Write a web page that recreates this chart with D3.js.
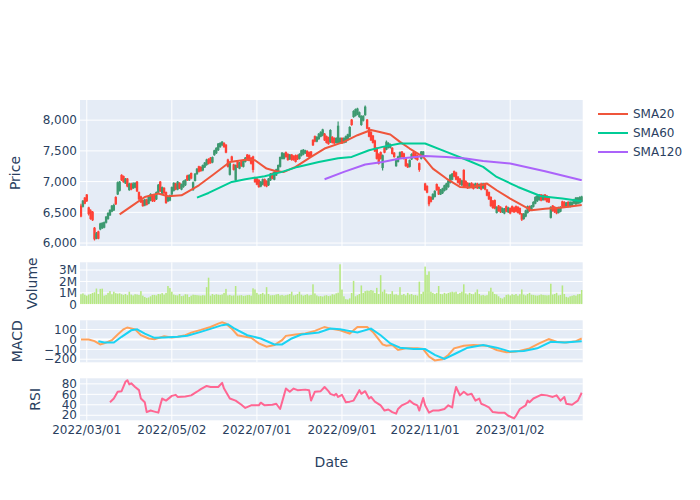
<!DOCTYPE html>
<html><head><meta charset="utf-8">
<script src="https://cdn.jsdelivr.net/npm/d3@7"></script>
<style>body{margin:0;background:#fff} text{font-family:"DejaVu Sans",Verdana,sans-serif}</style>
</head><body><svg id="c" width="700" height="500"></svg>
<script>
const startDate = "2022-02-24", endDate = "2023-02-22";
const tickLabels = ["2022/03/01","2022/05/02","2022/07/01","2022/09/01","2022/11/01","2023/01/02"];
const priceTicks = [6000,6500,7000,7500,8000];
const volTicks = [0,1000,2000,3000];
const macdTicks = [-200,-100,0,100];
const rsiTicks = [20,40,60,80];

const open = [6600,6600,6730,6780,6570,6520,6500,6240,6080,6180,
 6230,6250,6260,6340,6400,6460,6520,6540,6740,6800,
 6860,7100,7080,6980,7040,6870,6960,6900,6910,6990,
 6820,6750,6690,6620,6700,6650,6700,6780,6760,6720,
 6830,6990,6800,6890,6820,6690,6700,6800,6860,6960,
 6880,6970,6880,6920,6950,7090,7030,7130,6870,7020,
 7130,7240,7230,7190,7240,7280,7360,7380,7320,7440,
 7470,7520,7570,7600,7620,7590,7350,7120,7400,7270,
 7030,7320,7220,7330,7250,7330,7430,7420,7380,7400,
 7060,7040,7020,6930,6960,7030,7000,6950,7030,7130,
 7040,7110,7180,7250,7380,7380,7470,7440,7370,7430,
 7410,7420,7420,7380,7430,7450,7470,7490,7470,7480,
 7670,7730,7660,7700,7740,7760,7770,7730,7710,7650,
 7720,7700,7640,7640,7630,7700,7640,7650,7690,7740,
 8000,8060,8080,8100,8060,7930,8000,8090,8000,7870,
 7800,7740,7660,7540,7440,7470,7230,7560,7530,7560,
 7560,7540,7460,7260,7330,7400,7480,7450,7380,7280,
 7250,7370,7470,7450,7420,7290,7380,7410,6960,6920,
 6750,6740,6720,6760,6950,6900,6800,6820,6860,6880,
 6920,6990,7040,7160,7140,7070,7040,6950,7180,7000,
 6970,6910,6970,6950,6910,6960,6900,6960,6900,6960,
 6860,6820,6740,6680,6690,6500,6600,6580,6510,6490,
 6590,6510,6560,6590,6570,6590,6580,6560,6470,6400,
 6440,6500,6590,6540,6600,6650,6690,6710,6780,6710,
 6780,6760,6740,6420,6600,6580,6560,6500,6520,6670,
 6660,6590,6660,6600,6610,6650,6640,6650,6660,6680];
const close = [6440,6680,6650,6690,6480,6400,6380,6070,6150,6080,
 6310,6320,6330,6420,6480,6530,6600,6610,6640,6980,
 6990,7030,7000,7040,6930,6960,6880,6960,6970,6850,
 6720,6670,6610,6700,6630,6750,6790,6690,6690,6820,
 6940,6850,6900,6820,6660,6740,6770,6900,6970,6880,
 6990,6900,6950,7000,7020,7030,7100,7060,6980,7120,
 7200,7170,7180,7260,7300,7350,7300,7310,7390,7500,
 7540,7610,7620,7640,7570,7480,7250,7300,7350,7200,
 7260,7240,7300,7260,7330,7380,7360,7350,7300,7200,
 7000,6960,6920,6990,7030,6940,6930,7040,7120,7060,
 7150,7190,7260,7390,7460,7450,7410,7360,7430,7360,
 7360,7330,7370,7440,7500,7510,7500,7420,7410,7420,
 7600,7660,7720,7770,7800,7840,7680,7640,7620,7830,
 7640,7630,7700,7900,7700,7630,7700,7730,7760,7880,
 7930,8140,8170,8180,8120,8060,8060,8210,7870,7740,
 7680,7640,7500,7380,7300,7380,7420,7480,7640,7620,
 7600,7460,7410,7350,7400,7470,7410,7380,7260,7240,
 7340,7440,7400,7380,7360,7200,7480,7480,6870,6830,
 6640,6680,6790,6840,6870,6800,6860,6880,6930,6960,
 7010,7100,7120,7090,7040,6990,6960,7010,6920,6930,
 6900,6960,6910,6890,6960,6900,6950,6880,6960,6880,
 6780,6720,6610,6580,6570,6580,6530,6510,6560,6550,
 6520,6570,6490,6520,6510,6520,6500,6480,6390,6470,
 6520,6590,6530,6600,6660,6740,6760,6780,6700,6770,
 6710,6680,6670,6580,6530,6510,6490,6570,6580,6600,
 6590,6650,6600,6660,6660,6700,6730,6730,6740,6750];
const high = [6640,6700,6750,6800,6590,6550,6520,6260,6180,6200,
 6330,6340,6350,6440,6500,6550,6620,6640,6760,7000,
 7010,7120,7100,7060,7060,6980,6980,6990,6990,7010,
 6840,6770,6710,6720,6720,6770,6810,6800,6780,6840,
 6960,7010,6920,6910,6840,6760,6790,6920,6990,6980,
 7010,6990,6970,7020,7040,7110,7120,7150,7000,7140,
 7220,7260,7250,7280,7320,7370,7380,7400,7410,7520,
 7560,7630,7640,7660,7640,7610,7370,7320,7420,7290,
 7280,7340,7320,7350,7350,7400,7450,7440,7400,7420,
 7080,7060,7040,7010,7050,7050,7020,7060,7140,7150,
 7170,7210,7280,7410,7480,7470,7490,7460,7450,7450,
 7430,7440,7440,7460,7520,7530,7520,7510,7490,7500,
 7690,7750,7740,7790,7820,7860,7790,7750,7730,7850,
 7740,7720,7720,7980,7720,7720,7720,7750,7780,7900,
 8020,8160,8190,8200,8140,8080,8080,8240,8020,7890,
 7820,7760,7680,7560,7460,7490,7440,7580,7670,7640,
 7620,7560,7480,7370,7420,7490,7500,7470,7400,7300,
 7360,7460,7490,7470,7440,7310,7500,7500,6980,6940,
 6770,6760,6810,6860,6970,6920,6880,6900,6950,6980,
 7030,7120,7140,7180,7160,7090,7060,7030,7200,7020,
 6990,6980,6990,6970,6980,6980,6970,6980,6980,6980,
 6880,6840,6760,6700,6710,6600,6620,6600,6580,6570,
 6610,6590,6580,6610,6590,6610,6600,6580,6490,6490,
 6540,6610,6610,6620,6680,6760,6780,6800,6800,6790,
 6800,6780,6760,6600,6620,6600,6580,6590,6600,6690,
 6680,6670,6680,6680,6680,6720,6750,6750,6760,6770];
const low = [6420,6580,6630,6670,6450,6380,6360,6040,6060,6060,
 6210,6230,6240,6320,6380,6440,6500,6520,6620,6780,
 6840,7010,6980,6960,6910,6850,6860,6880,6890,6830,
 6700,6650,6590,6600,6610,6630,6680,6670,6670,6700,
 6810,6830,6780,6800,6640,6670,6680,6780,6840,6860,
 6860,6880,6860,6900,6930,7010,7010,7040,6850,7000,
 7110,7150,7160,7170,7220,7260,7280,7290,7300,7420,
 7450,7500,7550,7580,7550,7460,7230,7100,7330,7180,
 7010,7220,7200,7240,7230,7310,7340,7330,7280,7150,
 6980,6940,6900,6910,6940,6920,6910,6930,7010,7040,
 7020,7090,7160,7230,7360,7360,7390,7340,7350,7340,
 7340,7310,7350,7360,7410,7430,7450,7400,7390,7400,
 7580,7640,7640,7680,7720,7740,7660,7620,7600,7630,
 7620,7610,7620,7620,7610,7610,7620,7630,7670,7720,
 7910,8040,8060,8080,8040,7910,7980,8070,7850,7720,
 7660,7620,7480,7360,7280,7360,7180,7460,7510,7540,
 7540,7440,7390,7240,7310,7380,7390,7360,7240,7220,
 7230,7350,7380,7360,7340,7160,7360,7390,6850,6810,
 6600,6660,6700,6740,6850,6780,6780,6800,6840,6860,
 6900,6970,7020,7070,7020,6970,6940,6930,6900,6910,
 6880,6890,6890,6870,6890,6880,6880,6860,6880,6860,
 6760,6700,6590,6560,6550,6480,6510,6490,6490,6470,
 6500,6490,6470,6500,6490,6500,6480,6460,6360,6380,
 6420,6480,6510,6520,6580,6630,6670,6690,6680,6690,
 6690,6660,6650,6400,6510,6490,6470,6480,6500,6580,
 6570,6570,6580,6580,6590,6630,6620,6630,6640,6660];
// volume in thousands of shares
const volumeK = [880,950,830,760,850,900,1000,1050,1380,900,
 1350,1370,760,820,1000,1150,880,1100,970,930,
 960,880,820,900,800,1100,850,780,880,860,
 820,1150,760,640,560,600,700,820,820,780,
 900,880,980,850,1000,1600,1420,1100,850,800,
 780,900,720,760,880,860,640,760,840,820,
 800,780,760,800,780,1500,2330,760,900,820,
 880,840,820,860,1000,1350,780,820,760,780,
 1600,760,780,800,740,760,800,820,760,1400,
 1300,1000,850,900,1000,860,1500,900,780,800,
 800,860,900,780,820,760,800,840,900,1100,
 780,820,900,1100,840,760,820,880,780,820,
 1750,950,780,700,720,680,760,800,720,760,
 880,850,960,1020,3500,1290,700,450,420,520,
 990,2050,700,800,900,1650,1000,1150,1200,1180,
 1250,1200,1000,1440,900,2550,1100,1290,950,880,
 900,1150,850,880,800,1500,820,900,780,1000,
 850,900,800,820,760,1980,900,1100,3300,2580,
 2880,1100,1000,900,1000,1600,900,880,1000,920,
 1000,1050,1100,1050,1100,900,1000,1100,1750,950,
 850,1000,900,880,1050,1300,900,780,820,760,
 800,1140,1450,1100,900,860,700,560,500,620,
 820,860,780,880,820,900,760,880,1300,850,
 780,900,1000,840,820,780,760,800,860,820,
 800,780,800,1800,850,900,1000,780,820,1650,
 900,650,600,700,750,800,760,880,900,1250];

// [trading-day index, value]
const sma20 = [[20,6467],[26,6598],[33,6750],[40,6805],[45,6761],[52,6777],[61,6940],[68,7103],[77,7320],[86,7359],[90,7348],[96,7212],[101,7169],[105,7158],[111,7239],[119,7402],[126,7538],[136,7647],[143,7755],[150,7840],[154,7810],[160,7767],[165,7647],[170,7538],[177,7402],[182,7212],[189,7050],[196,6913],[201,6903],[207,6940],[210,6968],[215,6859],[222,6724],[233,6533],[240,6560],[249,6577],[259,6620]];
const sma60 = [[60,6740],[66,6815],[78,6995],[85,7038],[95,7087],[104,7158],[112,7239],[123,7320],[133,7380],[140,7402],[149,7511],[156,7565],[165,7620],[178,7620],[189,7484],[199,7359],[208,7239],[215,7076],[226,6913],[238,6761],[249,6724],[259,6680]];
const sma120 = [[126,7038],[136,7158],[147,7278],[156,7320],[165,7375],[178,7418],[189,7402],[199,7375],[208,7337],[222,7294],[240,7169],[259,7022]];
const macd = [[0,0],[4,0],[7,-17],[10,-50],[12,-40],[16,-7],[19,50],[22,103],[24,122],[28,103],[31,43],[35,10],[38,3],[43,33],[47,20],[50,27],[54,43],[57,70],[62,97],[67,127],[71,160],[73,175],[75,160],[78,110],[81,43],[85,27],[88,17],[92,-40],[96,-73],[100,-57],[104,-7],[106,37],[111,50],[116,60],[121,87],[126,127],[129,110],[134,93],[139,60],[143,127],[148,127],[151,77],[156,-50],[158,-63],[161,-57],[164,-107],[168,-90],[174,-90],[177,-97],[180,-173],[183,-212],[187,-200],[190,-157],[193,-90],[198,-63],[203,-57],[210,-63],[215,-107],[220,-130],[225,-123],[232,-90],[237,-40],[242,3],[246,-23],[251,-30],[256,-17],[259,10]];
const signal = [[9,-17],[12,-30],[17,-30],[21,27],[26,93],[29,103],[33,60],[38,17],[43,20],[50,27],[55,37],[62,77],[69,120],[73,145],[76,155],[79,115],[86,43],[93,10],[100,-50],[104,-50],[109,10],[114,50],[123,70],[129,110],[134,103],[143,70],[150,110],[155,43],[160,-40],[165,-83],[172,-97],[178,-97],[183,-157],[188,-197],[193,-150],[200,-83],[208,-57],[215,-83],[222,-123],[229,-117],[236,-90],[243,-23],[250,-30],[259,-17]];
const rsi = [[15,45],[17,52],[19,65],[21,66],[23,84],[24,87],[25,79],[26,81],[28,74],[30,68],[31,52],[33,45],[34,26],[36,29],[38,27],[40,25],[41,39],[42,52],[44,48],[47,57],[49,59],[50,55],[54,56],[57,58],[60,65],[62,70],[65,76],[67,74],[71,74],[73,82],[74,71],[77,52],[80,48],[83,40],[85,34],[88,39],[92,39],[93,44],[95,39],[99,40],[101,42],[103,32],[105,58],[106,71],[108,65],[110,71],[112,68],[116,69],[118,68],[119,48],[121,65],[124,66],[126,74],[128,66],[129,61],[131,58],[132,61],[133,55],[135,59],[137,45],[139,46],[141,48],[144,68],[145,61],[147,66],[149,52],[150,55],[152,46],[155,39],[157,29],[159,31],[161,26],[163,23],[164,32],[166,39],[169,44],[170,48],[172,42],[174,39],[175,29],[177,53],[178,39],[180,25],[182,29],[185,29],[188,32],[190,39],[192,35],[193,58],[194,74],[196,58],[198,65],[200,59],[202,61],[204,48],[206,52],[207,42],[209,39],[211,35],[213,26],[216,25],[219,25],[221,19],[224,14],[225,19],[227,32],[230,39],[231,48],[232,45],[234,52],[238,59],[241,58],[244,55],[246,58],[248,48],[250,55],[251,42],[254,40],[257,48],[259,63]];

const seriesNames = ["SMA20","SMA60","SMA120"];
const seriesColors = ["#EF553B","#00CC96","#AB63FA"];

// ---------- drawing ----------
const svg = d3.select("#c");
const TXT = "#2a3f5f", BG = "#E5ECF6";
const L = 80, R = 582.7;
const parse = d3.timeParse("%Y-%m-%d"), fmtD = d3.timeFormat("%Y/%m/%d");
const days = d3.timeDay.range(parse(startDate), d3.timeDay.offset(parse(endDate), 1))
  .filter(d => d.getDay() !== 0 && d.getDay() !== 6);
const n = close.length;
const x = d3.scaleBand().domain(d3.range(n)).range([L, R]);
const bw = x.bandwidth();
const cx = i => x(i) + bw / 2;
const tickIdx = tickLabels.map(t => days.findIndex(d => fmtD(d) === t));

function pad(ext, f) { const s = ext[1] - ext[0]; return [ext[0] - s * f, ext[1] + s * f]; }
const panels = {
  price: {top: 100, bot: 246, title: "Price", tx: 20},
  vol:   {top: 262.3, bot: 304.3, title: "Volume", tx: 37},
  macd:  {top: 320.3, bot: 362.3, title: "MACD", tx: 21.5},
  rsi:   {top: 378.3, bot: 420.3, title: "RSI", tx: 39.5}
};
const yP = d3.scaleLinear().domain(pad([d3.min(low), d3.max(high)], 0.04)).range([panels.price.bot, panels.price.top]);
const yV = d3.scaleLinear().domain([0, d3.max(volumeK) * 1.05]).range([panels.vol.bot, panels.vol.top]);
const mAll = macd.concat(signal).map(d => d[1]);
const yM = d3.scaleLinear().domain(pad(d3.extent(mAll), 0.05)).range([panels.macd.bot, panels.macd.top]);
const yR = d3.scaleLinear().domain(pad(d3.extent(rsi, d => d[1]), 0.05)).range([panels.rsi.bot, panels.rsi.top]);

const defs = svg.append("defs");
Object.entries(panels).forEach(([k, p]) => {
  defs.append("clipPath").attr("id", "clip-" + k).append("rect")
    .attr("x", L).attr("y", p.top).attr("width", R - L).attr("height", p.bot - p.top);
  svg.append("rect").attr("x", L).attr("y", p.top).attr("width", R - L).attr("height", p.bot - p.top).attr("fill", BG);
  tickIdx.forEach(i => svg.append("line").attr("x1", cx(i)).attr("x2", cx(i)).attr("y1", p.top).attr("y2", p.bot)
    .attr("stroke", "#fff").attr("stroke-width", 1));
  svg.append("text").attr("transform", `translate(${p.tx},${(p.top + p.bot) / 2}) rotate(-90)`)
    .attr("text-anchor", "middle").attr("font-size", 14).attr("fill", TXT).text(p.title);
});

function yAxis(scale, ticks, fmt, zero) {
  const g = svg.append("g");
  ticks.forEach(t => {
    const yy = scale(t);
    g.append("line").attr("x1", L).attr("x2", R).attr("y1", yy).attr("y2", yy)
      .attr("stroke", "#fff").attr("stroke-width", (zero && t === 0) ? 2 : 1);
    g.append("text").attr("x", L - 3).attr("y", yy).attr("dy", "0.35em").attr("text-anchor", "end")
      .attr("font-size", 12).attr("fill", TXT).text(fmt(t));
  });
}
yAxis(yP, priceTicks, d3.format(","), false);
yAxis(yV, volTicks, v => v === 0 ? "0" : (v / 1000) + "M", true);
yAxis(yM, macdTicks, d3.format("d"), true);
yAxis(yR, rsiTicks, d3.format("d"), false);

// candles
const gc = svg.append("g").attr("clip-path", "url(#clip-price)");
d3.range(n).forEach(i => {
  const up = close[i] >= open[i];
  const col = up ? "#3D9970" : "#FF4136";
  gc.append("line").attr("x1", cx(i)).attr("x2", cx(i)).attr("y1", yP(high[i])).attr("y2", yP(low[i]))
    .attr("stroke", col).attr("stroke-width", 1.2);
  const yt = yP(Math.max(open[i], close[i])), yb = yP(Math.min(open[i], close[i]));
  gc.append("rect").attr("x", cx(i) - bw * 0.3).attr("width", bw * 0.6)
    .attr("y", yt).attr("height", Math.max(0.5, yb - yt))
    .attr("fill", col).attr("stroke", col).attr("stroke-width", 1.2);
});
const lineGen = ys => d3.line().x(d => cx(d[0])).y(d => ys(d[1]));
[sma20, sma60, sma120].forEach((s, k) => {
  gc.append("path").datum(s).attr("d", lineGen(yP)).attr("fill", "none")
    .attr("stroke", seriesColors[k]).attr("stroke-width", 2).attr("stroke-linejoin", "round");
});

// volume
const gv = svg.append("g").attr("clip-path", "url(#clip-vol)");
volumeK.forEach((v, i) => {
  gv.append("rect").attr("x", x(i) + bw * 0.1).attr("width", bw * 0.8)
    .attr("y", yV(v)).attr("height", yV(0) - yV(v)).attr("fill", "#B6E880");
});

// macd
const gm = svg.append("g").attr("clip-path", "url(#clip-macd)");
gm.append("path").datum(macd).attr("d", lineGen(yM)).attr("fill", "none").attr("stroke", "#FFA15A").attr("stroke-width", 2);
gm.append("path").datum(signal).attr("d", lineGen(yM)).attr("fill", "none").attr("stroke", "#19D3F3").attr("stroke-width", 2);

// rsi
const gr = svg.append("g").attr("clip-path", "url(#clip-rsi)");
gr.append("path").datum(rsi).attr("d", lineGen(yR)).attr("fill", "none").attr("stroke", "#FF6692").attr("stroke-width", 2).attr("stroke-linejoin", "round");

// x tick labels
tickIdx.forEach((i, k) => svg.append("text").attr("x", cx(i)).attr("y", 434).attr("text-anchor", "middle")
  .attr("font-size", 12).attr("fill", TXT).text(tickLabels[k]));
svg.append("text").attr("x", (L + R) / 2).attr("y", 467).attr("text-anchor", "middle")
  .attr("font-size", 14).attr("fill", TXT).text("Date");

// legend
seriesNames.forEach((nm, k) => {
  const yy = 114 + k * 19;
  svg.append("line").attr("x1", 598).attr("x2", 628).attr("y1", yy).attr("y2", yy)
    .attr("stroke", seriesColors[k]).attr("stroke-width", 2);
  svg.append("text").attr("x", 633).attr("y", yy).attr("dy", "0.35em").attr("font-size", 12)
    .attr("fill", TXT).text(nm);
});
</script></body></html>
